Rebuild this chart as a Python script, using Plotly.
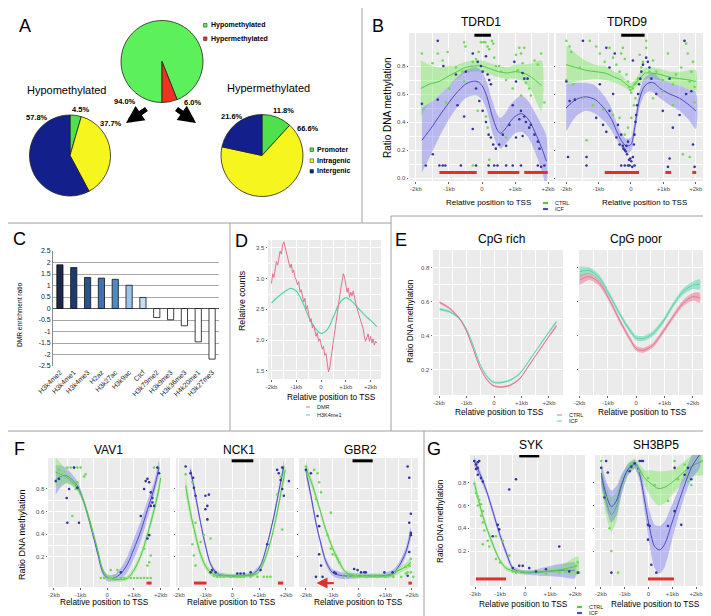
import plotly.graph_objects as go

W, H = 711, 616
FONT = "Liberation Sans, Arial, Helvetica, sans-serif"

# ======================= DATA =======================
# ---- Panel A (pies) ----
A_top_labels = ["Hypomethylated", "Hypermethylated"]
A_top_values = [94.0, 6.0]
A_region_labels = ["Promoter", "Intragenic", "Intergenic"]
A_hypo_values = [4.5, 37.7, 57.8]
A_hyper_values = [11.8, 66.6, 21.6]

# ---- Panel C (bars) ----
C_marks = ["H3k4me2", "H3k4me1", "H3k4me3", "H2az", "H3k27ac", "H3k9ac", "Ctcf",
           "H3k79me2", "H3k9me3", "H3k36me3", "H4k20me1", "H3k27me3"]
C_ratio = [1.90, 1.78, 1.35, 1.32, 1.27, 1.01, 0.48, -0.39, -0.49, -0.75, -1.45, -2.20]
C_tickvals = [2.5, 2, 1.5, 1, 0.5, 0, -0.5, -1, -1.5, -2, -2.5]
C_ticktext = ["2.5", "2", "1.5", "1", "0.5", "0", "-0.5", "-1", "-1.5", "-2", "-2.5"]

# ---- shared kb ticks ----
KB_VALS = [-2, -1, 0, 1, 2]
KB_TEXT = ["-2kb", "-1kb", "0", "+1kb", "+2kb"]

# ---- Panel D ----
D_dmr_x = [-2.0, -1.95, -1.9, -1.85, -1.8, -1.75, -1.7, -1.65, -1.6, -1.55, -1.5, -1.45, -1.4, -1.35,
           -1.3, -1.25, -1.2, -1.15, -1.1, -1.05, -1.0, -0.95, -0.9, -0.85, -0.8, -0.75, -0.7, -0.65,
           -0.6, -0.55, -0.5, -0.45, -0.4, -0.35, -0.3, -0.25, -0.2, -0.15, -0.1, -0.05, 0.0, 0.05,
           0.1, 0.15, 0.2, 0.25, 0.3, 0.35, 0.4, 0.45, 0.5, 0.55, 0.6, 0.65, 0.7, 0.75, 0.8, 0.85,
           0.9, 0.95, 1.0, 1.05, 1.1, 1.15, 1.2, 1.25, 1.3, 1.35, 1.4, 1.45, 1.5, 1.55, 1.6, 1.65,
           1.7, 1.75, 1.8, 1.85, 1.9, 1.95, 2.0, 2.05, 2.1, 2.15, 2.2, 2.25]
D_dmr_y = [2.92, 3.08, 3.02, 3.20, 3.28, 3.22, 3.38, 3.45, 3.40, 3.55, 3.60, 3.52, 3.42, 3.36,
           3.30, 3.18, 3.24, 3.10, 3.14, 3.02, 2.98, 2.90, 2.95, 2.78, 2.82, 2.70, 2.62, 2.68,
           2.50, 2.56, 2.40, 2.30, 2.35, 2.20, 2.25, 2.12, 2.06, 2.12, 1.98, 2.02, 1.95, 1.85,
           1.90, 1.75, 1.78, 1.62, 1.48, 1.55, 1.70, 1.82, 1.95, 2.15, 2.30, 2.45, 2.52, 2.70,
           2.85, 2.95, 3.08, 3.02, 2.88, 2.78, 2.85, 2.70, 2.78, 2.72, 2.80, 2.68, 2.60, 2.52,
           2.45, 2.35, 2.30, 2.22, 2.18, 2.05, 1.98, 2.04, 2.10, 1.98, 2.06, 1.95, 2.02, 1.92,
           1.98, 1.95]
D_h3_x = [-2.0, -1.75, -1.5, -1.25, -1.0, -0.75, -0.5, -0.25, 0.0, 0.25, 0.5, 0.75, 1.0, 1.25,
          1.5, 1.75, 2.0, 2.25]
D_h3_y = [2.60, 2.70, 2.78, 2.84, 2.80, 2.62, 2.38, 2.20, 2.11, 2.17, 2.38, 2.60, 2.69, 2.63,
          2.52, 2.41, 2.32, 2.22]

# ---- Panel E ----
E_rich_x = [-1.98, -1.61, -1.25, -1.01, -0.76, -0.52, -0.28, -0.04, 0.21, 0.57, 0.93, 1.30, 1.66, 2.02, 2.27]
E_rich_ctrl = [0.596, 0.56, 0.50, 0.43, 0.325, 0.217, 0.148, 0.109, 0.10, 0.109, 0.148, 0.233, 0.317, 0.401, 0.458]
E_rich_icf = [0.556, 0.54, 0.50, 0.44, 0.345, 0.237, 0.168, 0.129, 0.125, 0.139, 0.178, 0.26, 0.345, 0.427, 0.482]
E_rich_se = [0.008, 0.007, 0.006, 0.006, 0.006, 0.006, 0.006, 0.006, 0.006, 0.006, 0.006, 0.006, 0.006, 0.007, 0.008]
E_poor_x = [-2.0, -1.65, -1.29, -0.94, -0.59, -0.23, 0.0, 0.24, 0.59, 0.94, 1.30, 1.65, 2.0, 2.24]
E_poor_ctrl = [0.727, 0.747, 0.707, 0.609, 0.492, 0.384, 0.325, 0.315, 0.345, 0.423, 0.511, 0.59, 0.629, 0.623]
E_poor_icf = [0.776, 0.782, 0.737, 0.639, 0.531, 0.433, 0.388, 0.384, 0.413, 0.482, 0.58, 0.658, 0.697, 0.701]
E_poor_se = [0.03, 0.02, 0.018, 0.015, 0.015, 0.015, 0.015, 0.015, 0.015, 0.015, 0.015, 0.018, 0.022, 0.03]

# ---- Panel B : TDRD1 ----
B1_ctrl_x = [-1.85, -1.6, -1.3, -1.0, -0.75, -0.5, -0.25, 0.0, 0.25, 0.5, 0.75, 1.0, 1.25, 1.5, 1.8]
B1_ctrl_y = [0.64, 0.67, 0.69, 0.73, 0.76, 0.79, 0.80, 0.80, 0.78, 0.76, 0.75, 0.76, 0.75, 0.72, 0.66]
B1_ctrl_se = [0.20, 0.14, 0.10, 0.07, 0.05, 0.04, 0.04, 0.04, 0.04, 0.04, 0.04, 0.05, 0.06, 0.10, 0.18]
B1_icf_x = [-1.82, -1.5, -1.3, -1.0, -0.8, -0.5, -0.3, -0.15, 0.0, 0.15, 0.3, 0.45, 0.55, 0.7, 0.85,
            1.0, 1.2, 1.4, 1.6, 1.8, 1.95]
B1_icf_y = [0.27, 0.37, 0.44, 0.54, 0.60, 0.67, 0.69, 0.69, 0.66, 0.58, 0.45, 0.35, 0.32, 0.35, 0.40,
            0.44, 0.46, 0.42, 0.33, 0.22, 0.12]
B1_icf_se = [0.23, 0.18, 0.15, 0.12, 0.11, 0.10, 0.10, 0.10, 0.10, 0.10, 0.11, 0.11, 0.11, 0.11, 0.12,
             0.12, 0.13, 0.13, 0.14, 0.16, 0.18]
B1_ctrl_px = [-1.82, -1.34, -1.04, -0.54, -0.50, -0.28, -0.18, -0.10, -0.03, 0.04, 0.10, 0.17, 0.22, 0.30,
              0.34, 0.37, 0.42, 0.52, 0.58, 0.73, 0.93, 1.03, 1.08, 1.13, 1.18, 1.23, 1.28, 1.33, 1.43,
              1.48, 1.59, 1.69, 1.79, 1.89, -1.19, -1.50, -0.79, -0.54, -1.09, -0.13, 0.12, 0.17, -0.28,
              0.22, 0.73, -0.59, -0.99, 1.18]
B1_ctrl_py = [0.89, 0.89, 0.90, 0.97, 0.94, 0.83, 0.85, 0.90, 0.97, 0.97, 0.97, 0.94, 0.92, 0.98,
              0.96, 0.86, 0.80, 0.80, 0.76, 0.70, 0.64, 0.88, 0.77, 0.93, 0.89, 0.82, 0.93, 0.68, 0.64,
              0.59, 0.84, 0.81, 0.89, 0.54, 0.84, 0.82, 0.79, 0.69, 0.54, 0.48, 0.44, 0.36, 0.09,
              0.13, 0.29, 0.76, 0.64, 0.59]
B1_icf_px = [-1.34, -1.82, -1.17, -0.79, -0.49, -0.28, -0.13, -0.03, 0.02, 0.12, 0.17, 0.22, 0.27, -0.18,
             -0.08, 0.02, 0.12, 0.20, 0.27, 0.34, 0.42, 0.52, 0.63, 0.73, 0.83, 0.93, 1.03, 1.13, 1.18,
             1.23, 1.28, 1.33, 1.43, 1.48, 1.59, 1.69, 1.74, 1.79, 1.89,
             -1.70, -1.29, -1.19, -1.11, -0.64, -0.18, 0.20, 0.37, 0.47, 0.73, 0.93, 1.18, 1.69,
             -1.49, -0.74, -0.54, -0.28, -1.34, 0.98, 1.03, 1.23, 1.28, 1.38]
B1_icf_py = [0.98, 0.53, 0.80, 0.74, 0.76, 0.89, 0.83, 0.80, 0.76, 0.87, 0.74, 0.70, 0.67, 0.64,
             0.55, 0.48, 0.40, 0.31, 0.29, 0.24, 0.21, 0.24, 0.31, 0.23, 0.38, 0.52, 0.29, 0.42, 0.48,
             0.30, 0.44, 0.40, 0.36, 0.38, 0.31, 0.26, 0.21, 0.08, 0.09,
             0.09, 0.09, 0.09, 0.09, 0.09, 0.09, 0.09, 0.09, 0.09, 0.09, 0.09, 0.09, 0.09,
             0.17, 0.52, 0.44, 0.35, 0.56, 0.83, 0.69, 0.75, 0.71, 0.71]
B1_dmr_start = [-1.29, 0.17, 1.28]
B1_dmr_end = [-0.16, 1.13, 1.99]
B1_gene = [-0.23, 0.27]

# ---- Panel B : TDRD9 ----
B2_ctrl_x = [-2.0, -1.7, -1.4, -1.1, -0.8, -0.5, -0.3, -0.15, 0.0, 0.15, 0.3, 0.45, 0.6, 0.9, 1.2, 1.5, 1.8, 2.0]
B2_ctrl_y = [0.81, 0.79, 0.77, 0.76, 0.75, 0.72, 0.70, 0.67, 0.65, 0.68, 0.72, 0.75, 0.75, 0.74, 0.72, 0.71, 0.70, 0.69]
B2_ctrl_se = [0.14, 0.10, 0.07, 0.05, 0.05, 0.04, 0.04, 0.03, 0.03, 0.03, 0.04, 0.04, 0.04, 0.04, 0.04, 0.05, 0.07, 0.08]
B2_icf_x = [-2.0, -1.7, -1.4, -1.1, -0.8, -0.6, -0.45, -0.3, -0.15, 0.0, 0.1, 0.25, 0.4, 0.55, 0.7, 0.9,
            1.2, 1.5, 1.8, 2.0]
B2_icf_y = [0.50, 0.56, 0.58, 0.56, 0.49, 0.42, 0.34, 0.27, 0.23, 0.24, 0.34, 0.55, 0.65, 0.68, 0.68, 0.64,
            0.60, 0.57, 0.52, 0.48]
B2_icf_se = [0.17, 0.12, 0.10, 0.10, 0.09, 0.08, 0.06, 0.05, 0.05, 0.05, 0.05, 0.06, 0.06, 0.06, 0.07, 0.07,
             0.08, 0.09, 0.11, 0.13]
B2_ctrl_px = [-1.99, -1.89, -1.84, -1.58, -1.27, -1.07, -0.96, -0.81, -0.66, -0.55, -0.45, -0.35, -0.30, -0.25,
              -0.19, -0.14, -0.09, -0.06, -0.02, 0.01, 0.06, 0.11, 0.16, 0.22, 0.27, 0.32, 0.37, 0.47, 0.68,
              0.78, 0.98, 1.14, 1.29, 1.39, 1.55, 1.70, 1.75, 1.81, 1.86, 1.91, 1.96, 1.96, -1.99, -1.78,
              -1.48, -1.17, -0.86, -0.55, -0.35, -0.19, -0.09, 0.01, 0.09, 0.14, -1.37, 0.68, 0.98, 1.29,
              1.60, 1.81, 0.47, 0.57]
B2_ctrl_py = [0.98, 0.94, 0.90, 0.79, 0.98, 0.94, 0.89, 0.83, 0.93, 0.86, 0.81, 0.76, 0.89, 0.93,
              0.85, 0.74, 0.69, 0.65, 0.63, 0.61, 0.64, 0.67, 0.68, 0.71, 0.88, 0.79, 0.83, 0.93, 0.84,
              0.76, 0.70, 0.89, 0.67, 0.74, 0.79, 0.96, 0.89, 0.69, 0.76, 0.83, 0.65, 0.54, 0.70, 0.67,
              0.57, 0.52, 0.49, 0.45, 0.43, 0.31, 0.36, 0.43, 0.52, 0.57, 0.27, 0.57, 0.62, 0.52,
              0.17, 0.15, 0.98, 0.76]
B2_icf_px = [-1.99, -1.94, -1.48, -1.37, -1.37, -1.07, -0.86, -0.76, -0.66, -0.55, -0.45, -0.40, -0.35, -0.30,
             -0.25, -0.23, -0.19, -0.16, -0.14, -0.12, -0.09, -0.06, -0.04, -0.02, 0.01, 0.04, 0.06, 0.09,
             0.11, 0.14, 0.16, 0.19, 0.22, 0.25, 0.29, 0.32, 0.37, 0.47, 0.52, 0.57, 0.63, -0.30, -0.19,
             -0.09, 0.11, -0.76, -0.50, -0.66, -0.96, 0.78, 0.98, 1.19, 1.29, 1.50, 1.70, 1.86, 1.91,
             1.96, 1.65, 0.06, 1.14, 1.19, -1.89, -1.73]
B2_icf_py = [0.69, 0.15, 0.98, 0.15, 0.09, 0.43, 0.38, 0.33, 0.48, 0.60, 0.29, 0.38, 0.24, 0.31,
             0.23, 0.21, 0.20, 0.19, 0.23, 0.17, 0.26, 0.13, 0.09, 0.14, 0.12, 0.08, 0.15, 0.24,
             0.31, 0.40, 0.45, 0.52, 0.60, 0.67, 0.71, 0.76, 0.81, 0.86, 0.83, 0.79, 0.71, 0.09, 0.09,
             0.09, 0.09, 0.93, 0.89, 0.79, 0.67, 0.60, 0.48, 0.71, 0.36, 0.45, 0.60, 0.62, 0.24,
             0.08, 0.98, 0.84, 0.08, 0.14, 0.55, 0.56]
B2_dmr_start = [-0.81, 1.06, 1.89]
B2_dmr_end = [0.25, 1.24, 2.01]
B2_gene = [-0.30, 0.42]

# ---- Panel F : VAV1 ----
F1_ctrl_x = [-1.93, -1.75, -1.56, -1.35, -1.12, -0.87, -0.62, -0.37, -0.18, 0.0, 0.26, 0.51, 0.76, 1.0,
             1.26, 1.51, 1.76, 1.94, 2.0]
F1_ctrl_y = [0.95, 0.93, 0.91, 0.87, 0.81, 0.68, 0.49, 0.27, 0.09, 0.02, 0.0, -0.005, 0.01, 0.08,
             0.21, 0.40, 0.62, 0.81, 0.90]
F1_ctrl_se = [0.13, 0.10, 0.06, 0.04, 0.03, 0.03, 0.03, 0.02, 0.02, 0.02, 0.02, 0.02, 0.02, 0.03,
              0.03, 0.04, 0.05, 0.06, 0.07]
F1_icf_x = [-1.93, -1.75, -1.56, -1.35, -1.12, -0.87, -0.62, -0.37, -0.18, 0.0, 0.26, 0.51, 0.76, 1.0,
            1.26, 1.51, 1.76, 1.94]
F1_icf_y = [0.88, 0.91, 0.92, 0.89, 0.83, 0.68, 0.47, 0.24, 0.07, 0.01, 0.01, 0.05, 0.135, 0.27,
            0.43, 0.62, 0.81, 0.99]
F1_icf_se = [0.13, 0.10, 0.07, 0.05, 0.04, 0.03, 0.03, 0.03, 0.03, 0.03, 0.03, 0.05, 0.07, 0.09,
             0.09, 0.08, 0.06, 0.06]
F1_ctrl_px = [-1.495, -1.37, -1.245, -1.12, -0.995, -1.81, -0.87, -0.81, -1.18, -1.31, -1.12, 0.13, 0.26,
              0.38, -0.245, -0.12, 0.07, 0.13, 0.51, 0.63, 0.88, 1.0, 1.13, 1.255, 1.38, 1.505, 1.63,
              1.505, 1.57, 1.63, 1.755, 1.88, 1.38]
F1_ctrl_py = [0.99, 0.99, 0.99, 0.99, 0.99, 0.97, 0.91, 0.93, 0.80, 0.56, 0.86, 0.08, 0.03,
              0.08, 0.01, 0.01, 0.01, 0.01, 0.01, 0.01, 0.01, 0.01, 0.01, 0.01, 0.01, 0.01, 0.01,
              0.12, 0.15, 0.21, 0.99, 0.99, 0.27]
F1_icf_px = [-1.93, -1.81, -1.43, -1.52, -1.495, -1.12, -1.06, -1.245, 0.51, 1.38, 1.44, 1.505, 1.57, 1.63,
             1.63, 1.69, 1.505, 1.57, 1.88, 1.94, 1.255, 1.755, 1.69]
F1_icf_py = [0.87, 0.89, 0.80, 0.72, 0.50, 0.81, 0.50, 0.99, 0.06, 0.80, 0.87, 0.89, 0.86, 0.77,
             0.65, 0.68, 0.36, 0.39, 0.99, 0.94, 0.56, 0.65, 0.72]
F1_dmr_start = [1.47]
F1_dmr_end = [1.66]

# ---- Panel F : NCK1 ----
F2_ctrl_x = [-1.75, -1.57, -1.38, -1.19, -0.94, -0.69, -0.20, 0.43, 0.93, 1.17, 1.42, 1.67, 1.86, 1.98]
F2_ctrl_y = [0.83, 0.59, 0.39, 0.22, 0.09, 0.04, 0.03, 0.03, 0.05, 0.15, 0.33, 0.59, 0.83, 0.97]
F2_ctrl_se = [0.08, 0.06, 0.05, 0.04, 0.03, 0.025, 0.02, 0.02, 0.02, 0.03, 0.03, 0.04, 0.05, 0.06]
F2_icf_x = [-1.57, -1.38, -1.19, -1.01, -0.82, -0.57, -0.20, 0.43, 0.80, 1.05, 1.30, 1.55, 1.80, 1.92]
F2_icf_y = [0.97, 0.74, 0.50, 0.30, 0.135, 0.05, 0.03, 0.03, 0.05, 0.12, 0.31, 0.56, 0.86, 1.0]
F2_icf_se = [0.05, 0.04, 0.03, 0.03, 0.02, 0.02, 0.015, 0.015, 0.02, 0.02, 0.02, 0.03, 0.04, 0.05]
F2_ctrl_px = [-1.75, -1.50, -1.38, -1.50, -1.44, -1.38, -1.19, -1.07, -0.94, -0.82, -0.76, -0.69,
              -0.57, -0.45, -0.32, -0.07, 0.18, 0.30, 0.43, 0.68, 0.93, 1.17, 1.30, 1.42,
              1.67, 1.80, 1.86, 1.92]
F2_ctrl_py = [0.93, 0.86, 0.50, 0.31, 0.21, 0.12, 0.33, 0.39, 0.53, 0.36, 0.06, 0.03,
              0.02, 0.02, 0.02, 0.02, 0.02, 0.02, 0.02, 0.02, 0.02, 0.02, 0.02, 0.02,
              0.75, 0.91, 0.44, 0.94]
F2_icf_px = [-1.75, -1.57, -1.47, -1.44, -1.38, -1.01, -0.94, -1.01, -0.88, -0.94, -0.82, -0.76, -0.63,
             0.18, 0.30, 0.43, 0.68, 1.05, 1.30, 1.67, 1.73, 1.80, 1.86, 1.92, 2.11, 1.86]
F2_icf_py = [1.0, 0.94, 0.90, 0.81, 0.74, 0.74, 0.65, 0.62, 0.75, 0.53, 0.06, 0.08, 0.06,
             0.05, 0.05, 0.05, 0.06, 0.08, 0.31, 0.97, 0.94, 0.88, 0.80, 0.74, 0.87, 0.99]
F2_dmr_start = [-1.44, 1.70]
F2_dmr_end = [-0.97, 1.90]
F2_gene = [-0.03, 0.78]

# ---- Panel F : GBR2 ----
F3_ctrl_x = [-2.0, -1.75, -1.50, -1.25, -1.0, -0.74, -0.49, -0.11, 0.77, 1.14, 1.52, 1.77, 1.96]
F3_ctrl_y = [0.99, 0.83, 0.64, 0.44, 0.28, 0.15, 0.06, 0.03, 0.03, 0.03, 0.08, 0.11, 0.15]
F3_ctrl_se = [0.06, 0.04, 0.03, 0.03, 0.03, 0.03, 0.02, 0.02, 0.02, 0.02, 0.03, 0.03, 0.04]
F3_icf_x = [-2.0, -1.81, -1.62, -1.43, -1.25, -1.0, -0.62, 0.14, 0.89, 1.27, 1.52, 1.77, 1.96]
F3_icf_y = [0.96, 0.74, 0.50, 0.31, 0.16, 0.06, 0.03, 0.03, 0.03, 0.05, 0.12, 0.24, 0.41]
F3_icf_se = [0.05, 0.04, 0.03, 0.03, 0.03, 0.03, 0.03, 0.02, 0.02, 0.03, 0.03, 0.04, 0.05]
F3_ctrl_px = [-2.0, -1.69, -1.56, -1.50, -1.43, -1.06, -1.18, -1.06, -0.99, -0.87, -0.80, -0.74, -1.62,
              -0.11, 0.14, 0.52, 1.77, 1.90, 1.96, 1.96, 1.77, 1.84,
              -0.6, -0.4, -0.2, 0.3, 0.7, 1.0, 1.3, 1.6, 2.05]
F3_ctrl_py = [1.0, 0.97, 0.94, 0.86, 0.77, 0.59, 0.39, 0.27, 0.22, 0.21, 0.18, 0.15, 0.71,
              0.03, 0.03, 0.03, 0.11, 0.12, 0.18, 0.06, 0.05, 0.06,
              0.02, 0.02, 0.02, 0.02, 0.02, 0.02, 0.02, 0.02, 0.02]
F3_icf_px = [-2.0, -1.81, -1.56, -1.50, -1.50, -1.43, -1.62, -1.37, -0.93, -0.87, -0.18, -0.05, 0.08, 0.20,
             0.26, 0.96, 1.27, 1.84, 1.90, 1.96, 1.90, 1.96, 1.96, 1.90, 1.84]
F3_icf_py = [0.97, 0.94, 0.56, 0.47, 0.22, 0.12, 0.02, 0.02, 0.06, 0.05, 0.09, 0.08, 0.06, 0.06,
             0.06, 0.06, 0.06, 1.0, 0.90, 0.58, 0.50, 0.41, 0.39, 0.24, 0.03]
F3_dmr_start = [1.87]
F3_dmr_end = [2.0]
F3_arrow = [-0.89, -1.60]  # DMR extending upstream (tail, head)
F3_gene = [-0.24, 0.52]

# ---- Panel G : SYK ----
G1_ctrl_x = [-2.03, -1.83, -1.56, -1.29, -1.03, -0.76, -0.36, 0.17, 0.84, 1.51, 2.11]
G1_ctrl_y = [0.80, 0.62, 0.42, 0.26, 0.13, 0.05, 0.02, 0.016, 0.02, 0.04, 0.07]
G1_ctrl_se = [0.05, 0.04, 0.03, 0.03, 0.02, 0.02, 0.015, 0.015, 0.02, 0.04, 0.08]
G1_icf_x = [-2.03, -1.83, -1.56, -1.29, -1.03, -0.76, -0.49, -0.23, 0.17, 0.84, 1.51, 2.0]
G1_icf_y = [0.99, 0.89, 0.74, 0.55, 0.36, 0.19, 0.05, 0.02, 0.01, 0.02, 0.03, 0.03]
G1_icf_se = [0.05, 0.04, 0.03, 0.03, 0.03, 0.03, 0.02, 0.02, 0.02, 0.04, 0.06, 0.07]
G1_ctrl_px = [-2.03, -1.96, -1.89, -1.83, -1.89, -1.76, -1.69, -1.76, -1.69, -1.63, -1.69, -1.49, -1.43,
              -1.16, -1.16, -1.0, -0.89, -0.63, -0.49, -0.36, -0.23, 0.04, 0.44, 0.84, 1.37, 1.64,
              2.04, 2.11, 2.17]
G1_ctrl_py = [0.79, 0.71, 0.68, 0.65, 0.60, 0.61, 0.55, 0.51, 0.45, 0.38, 0.26, 0.29, 0.24,
              0.33, 0.13, 0.10, 0.29, 0.16, 0.02, 0.01, 0.02, 0.01, 0.01, 0.0, 0.01, 0.02,
              0.07, 0.10, 0.01]
G1_icf_px = [-2.03, -1.96, -1.89, -1.83, -1.96, -1.89, -1.76, -1.69, -1.89, -1.29, -1.09, -1.03, -0.36,
             -0.63, -0.49, -0.23, -0.09, 0.17, 0.44, 0.84, 1.37, 1.77, 2.11]
G1_icf_py = [0.99, 0.96, 0.98, 0.99, 0.92, 0.87, 0.84, 0.81, 0.93, 0.33, 0.43, 0.39, 0.83,
             0.74, 0.05, 0.07, 0.07, 0.05, 0.02, 0.04, 0.24, 0.02, 0.01]
G1_dmr_start = [-1.96]
G1_dmr_end = [-0.76]
G1_gene = [-0.23, 0.57]

# ---- Panel G : SH3BP5 ----
G2_ctrl_x = [-1.99, -1.78, -1.56, -1.35, -1.14, -0.86, -0.58, -0.37, -0.16, 0.12, 0.40, 0.68, 1.10,
             1.52, 1.94, 2.30]
G2_ctrl_y = [0.86, 0.64, 0.52, 0.59, 0.77, 0.92, 0.97, 0.915, 0.84, 0.79, 0.75, 0.76, 0.82, 0.90, 0.96, 0.99]
G2_ctrl_se = [0.10, 0.13, 0.15, 0.13, 0.08, 0.05, 0.04, 0.05, 0.07, 0.12, 0.15, 0.14, 0.10, 0.09, 0.10, 0.12]
G2_icf_x = [-1.99, -1.78, -1.56, -1.35, -1.14, -0.86, -0.58, -0.37, -0.16, 0.05, 0.26, 0.47, 0.68, 0.96,
            1.24, 1.52, 1.80, 2.16]
G2_icf_y = [0.885, 0.695, 0.59, 0.64, 0.78, 0.915, 0.96, 0.87, 0.64, 0.40, 0.24, 0.21, 0.26, 0.43,
            0.61, 0.78, 0.93, 1.05]
G2_icf_se = [0.10, 0.12, 0.14, 0.13, 0.09, 0.05, 0.04, 0.06, 0.10, 0.15, 0.19, 0.21, 0.20, 0.16,
             0.12, 0.10, 0.10, 0.12]
G2_ctrl_px = [-1.99, -1.78, -1.64, -1.56, -1.28, -0.79, -0.72, -0.65, -0.51, -0.44, -0.30, -0.02, 0.26,
              0.82, 1.10, 1.24, 1.52, 1.59, 1.80, 2.23, 1.66]
G2_ctrl_py = [0.99, 0.67, 0.40, 0.20, 0.01, 0.96, 0.93, 0.97, 0.94, 0.90, 0.89, 0.84, 0.78,
              0.64, 0.99, 0.83, 0.96, 0.87, 0.78, 0.99, 0.81]
G2_icf_px = [-1.99, -1.78, -1.71, -1.85, -1.56, -0.79, -0.72, -0.58, -0.37, -0.30, -0.23, -0.02, 0.05,
             -0.02, 0.12, 0.33, 0.82, 1.10, 1.38, 1.52, 1.66, 1.80, 1.10]
G2_icf_py = [0.93, 0.99, 0.89, 0.67, 0.01, 0.90, 0.94, 0.97, 0.99, 0.99, 0.99, 0.43, 0.42,
             0.30, 0.08, 0.01, 0.42, 0.55, 0.43, 0.87, 0.93, 0.83, 0.93]
G2_dmr_start = [-0.02]
G2_dmr_end = [1.07]

# ======================= STYLE =======================
GREEN_LINE = "#52c84a"
GREEN_PT = "#6fd957"
GREEN_FILL = "rgba(120,230,90,0.45)"
BLUE_LINE = "#4b4bc6"
BLUE_PT = "#33339f"
BLUE_FILL = "rgba(110,110,240,0.40)"
PINK_LINE = "#e2728c"
PINK_FILL = "rgba(235,100,130,0.45)"
TEAL_LINE = "#52d4a8"
TEAL_FILL = "rgba(60,210,160,0.45)"
RED = "#e0302c"
PANEL_BG = "#ebebeb"
C_colors = ["#1b2947", "#1f3a6e", "#2c518c", "#3f70b0", "#5088c8", "#9dc4ea", "#c6ddf3",
            "white", "white", "white", "white", "white"]


def P(px):
    return px / W


def Q(py):
    return 1 - py / H


fig = go.Figure()
annotations = []
shapes = []
layout_axes = {}


def ax_names(i):
    return ("x" if i == 1 else f"x{i}"), ("y" if i == 1 else f"y{i}")


def text(s, x, y, size, color="#000000", bold=False, angle=0, xanchor="center", yanchor="middle"):
    annotations.append(dict(text=(f"<b>{s}</b>" if bold else s), x=P(x), y=Q(y), xref="paper", yref="paper",
                            showarrow=False, font=dict(size=size, color=color, family=FONT),
                            xanchor=xanchor, yanchor=yanchor, textangle=angle))


def pline(x0, y0, x1, y1, color="#a0a0a0", width=1):
    shapes.append(dict(type="line", xref="paper", yref="paper", x0=P(x0), y0=Q(y0), x1=P(x1), y1=Q(y1),
                       line=dict(color=color, width=width)))


def gg_axes(i, xpx, ypx, xr, yr, yvals, ytext, show_ylabels=True):
    xa, ya = ax_names(i)
    xkey = "xaxis" if i == 1 else f"xaxis{i}"
    ykey = "yaxis" if i == 1 else f"yaxis{i}"
    tickfont = dict(size=6, color="#4d4d4d", family=FONT)
    layout_axes[xkey] = dict(domain=[P(xpx[0]), P(xpx[1])], range=xr, anchor=ya, tickvals=KB_VALS,
                             ticktext=KB_TEXT, tickfont=tickfont, showgrid=True, gridcolor="white",
                             gridwidth=1, zeroline=False, ticks="outside", ticklen=1.5, tickcolor="#666",
                             tickwidth=0.6, showline=False, fixedrange=True, automargin=False,
                             minor=dict(tickvals=[-1.5, -0.5, 0.5, 1.5], showgrid=True, gridcolor="white",
                                        gridwidth=0.5, ticks=""))
    minor_y = [(a + b) / 2 for a, b in zip(yvals[:-1], yvals[1:])]
    layout_axes[ykey] = dict(domain=[Q(ypx[1]), Q(ypx[0])], range=yr, anchor=xa, tickvals=yvals,
                             ticktext=ytext, tickfont=tickfont, showticklabels=show_ylabels,
                             showgrid=True, gridcolor="white", gridwidth=1, zeroline=False,
                             ticks="outside", ticklen=1.5, tickcolor="#666", tickwidth=0.6,
                             showline=False, fixedrange=True, automargin=False,
                             minor=dict(tickvals=minor_y, showgrid=True, gridcolor="white",
                                        gridwidth=0.5, ticks=""))
    shapes.append(dict(type="rect", xref=f"{xa} domain", yref=f"{ya} domain", x0=0, x1=1, y0=0, y1=1,
                       fillcolor=PANEL_BG, line=dict(width=0), layer="below"))


def smooth(i, x, y, se, line_color, fill_color, width=1.0):
    xa, ya = ax_names(i)
    up = [a + b for a, b in zip(y, se)]
    lo = [a - b for a, b in zip(y, se)]
    fig.add_trace(go.Scatter(x=list(x) + list(x)[::-1], y=up + lo[::-1], mode="lines", fill="toself",
                             fillcolor=fill_color, line=dict(width=0, shape="spline", smoothing=0.7),
                             hoverinfo="skip", xaxis=xa, yaxis=ya))
    fig.add_trace(go.Scatter(x=x, y=y, mode="lines", line=dict(color=line_color, width=width, shape="spline",
                                                               smoothing=0.9),
                             hoverinfo="skip", xaxis=xa, yaxis=ya))


def points(i, x, y, color, size=2.6):
    xa, ya = ax_names(i)
    fig.add_trace(go.Scatter(x=x, y=y, mode="markers", marker=dict(color=color, size=size, line=dict(width=0)),
                             hoverinfo="skip", xaxis=xa, yaxis=ya))


def segs(i, starts, ends, level, color, width=3):
    xa, ya = ax_names(i)
    xs, ys = [], []
    for s, e in zip(starts, ends):
        xs += [s, e, None]
        ys += [level, level, None]
    fig.add_trace(go.Scatter(x=xs, y=ys, mode="lines", line=dict(color=color, width=width),
                             hoverinfo="skip", xaxis=xa, yaxis=ya, cliponaxis=False))


# ======================= PANEL C (axis 1) =======================
layout_axes["xaxis"] = dict(domain=[P(45), P(211)], range=[-0.5, 11.5], anchor="y", tickangle=-45,
                            tickfont=dict(size=7, color="#222", family=FONT), showgrid=False,
                            showline=False, zeroline=False, ticks="", fixedrange=True, type="category",
                            automargin=False)
layout_axes["yaxis"] = dict(domain=[Q(358), Q(243)], range=[-2.5, 2.5], anchor="x", tickvals=C_tickvals,
                            ticktext=C_ticktext, tickfont=dict(size=7, color="#222", family=FONT),
                            showgrid=True, gridcolor="#a8a8a8", gridwidth=0.8, zeroline=True,
                            zerolinecolor="#555", zerolinewidth=1, showline=True, linecolor="#8c8c8c",
                            linewidth=0.8, ticks="", fixedrange=True, automargin=False)
fig.add_trace(go.Bar(x=C_marks, y=C_ratio, marker=dict(color=C_colors, line=dict(color="#111", width=0.8)),
                     width=0.45, xaxis="x", yaxis="y", hoverinfo="skip"))

# ======================= PANEL D (axis 2) =======================
gg_axes(2, (260, 373), (232, 371), [-2.14, 2.42], [1.365, 3.63], [1.5, 2.0, 2.5, 3.0, 3.5],
        ["1.5", "2.0", "2.5", "3.0", "3.5"])
fig.add_trace(go.Scatter(x=D_h3_x, y=D_h3_y, mode="lines", line=dict(color=TEAL_LINE, width=1.2, shape="spline"),
                         xaxis="x2", yaxis="y2", hoverinfo="skip"))
fig.add_trace(go.Scatter(x=D_dmr_x, y=D_dmr_y, mode="lines", line=dict(color=PINK_LINE, width=1.0),
                         xaxis="x2", yaxis="y2", hoverinfo="skip"))

# ======================= PANEL E (axes 3,4) =======================
E_yv = [0.2, 0.4, 0.6, 0.8]
E_yt = ["0.2", "0.4", "0.6", "0.8"]
gg_axes(3, (425, 555), (242, 387), [-2.22, 2.51], [0.053, 0.903], E_yv, E_yt)
gg_axes(4, (571, 699), (242, 387), [-2.02, 2.50], [0.053, 0.903], E_yv, E_yt, show_ylabels=False)
smooth(3, E_rich_x, E_rich_icf, E_rich_se, TEAL_LINE, TEAL_FILL, 0.9)
smooth(3, E_rich_x, E_rich_ctrl, E_rich_se, PINK_LINE, PINK_FILL, 0.9)
smooth(4, E_poor_x, E_poor_icf, E_poor_se, TEAL_LINE, TEAL_FILL, 0.9)
smooth(4, E_poor_x, E_poor_ctrl, E_poor_se, PINK_LINE, PINK_FILL, 0.9)

# ======================= PANEL B (axes 5,6) =======================
B_yv = [0.0, 0.2, 0.4, 0.6, 0.8]
B_yt = ["0.0", "0.2", "0.4", "0.6", "0.8"]
gg_axes(5, (401, 546), (25, 173), [-2.21, 2.18], [-0.021, 1.036], B_yv, B_yt)
gg_axes(6, (548, 695), (25, 173), [-2.31, 2.22], [-0.021, 1.036], B_yv, B_yt, show_ylabels=False)
smooth(5, B1_ctrl_x, B1_ctrl_y, B1_ctrl_se, GREEN_LINE, GREEN_FILL)
smooth(5, B1_icf_x, B1_icf_y, B1_icf_se, BLUE_LINE, BLUE_FILL)
points(5, B1_ctrl_px, B1_ctrl_py, GREEN_PT)
points(5, B1_icf_px, B1_icf_py, BLUE_PT)
segs(5, B1_dmr_start, B1_dmr_end, 0.04, RED)
segs(5, [B1_gene[0]], [B1_gene[1]], 1.02, "#000000")
smooth(6, B2_ctrl_x, B2_ctrl_y, B2_ctrl_se, GREEN_LINE, GREEN_FILL)
smooth(6, B2_icf_x, B2_icf_y, B2_icf_se, BLUE_LINE, BLUE_FILL)
points(6, B2_ctrl_px, B2_ctrl_py, GREEN_PT)
points(6, B2_icf_px, B2_icf_py, BLUE_PT)
segs(6, B2_dmr_start, B2_dmr_end, 0.04, RED)
segs(6, [B2_gene[0]], [B2_gene[1]], 1.02, "#000000")

# ======================= PANEL F (axes 7,8,9) =======================
F_yv = [0.2, 0.4, 0.6, 0.8]
F_yt = ["0.2", "0.4", "0.6", "0.8"]
F_yr = [-0.07, 1.075]
gg_axes(7, (40, 162), (450, 579), [-2.22, 2.35], F_yr, F_yv, F_yt)
gg_axes(8, (168, 286), (450, 579), [-2.11, 2.30], F_yr, F_yv, F_yt, show_ylabels=False)
gg_axes(9, (291, 410), (450, 579), [-2.26, 2.23], F_yr, F_yv, F_yt, show_ylabels=False)
for i, cx, cy, cs, ix, iy, isd, cpx, cpy, ipx, ipy in [
        (7, F1_ctrl_x, F1_ctrl_y, F1_ctrl_se, F1_icf_x, F1_icf_y, F1_icf_se, F1_ctrl_px, F1_ctrl_py, F1_icf_px, F1_icf_py),
        (8, F2_ctrl_x, F2_ctrl_y, F2_ctrl_se, F2_icf_x, F2_icf_y, F2_icf_se, F2_ctrl_px, F2_ctrl_py, F2_icf_px, F2_icf_py),
        (9, F3_ctrl_x, F3_ctrl_y, F3_ctrl_se, F3_icf_x, F3_icf_y, F3_icf_se, F3_ctrl_px, F3_ctrl_py, F3_icf_px, F3_icf_py)]:
    smooth(i, ix, iy, isd, BLUE_LINE, BLUE_FILL)
    smooth(i, cx, cy, cs, GREEN_LINE, GREEN_FILL)
    points(i, cpx, cpy, GREEN_PT)
    points(i, ipx, ipy, BLUE_PT)
segs(7, F1_dmr_start, F1_dmr_end, -0.035, RED)
segs(8, F2_dmr_start, F2_dmr_end, -0.035, RED)
segs(8, [F2_gene[0]], [F2_gene[1]], 1.05, "#000000")
segs(9, F3_dmr_start, F3_dmr_end, -0.035, RED)
segs(9, [F3_gene[0]], [F3_gene[1]], 1.05, "#000000")
annotations.append(dict(x=F3_arrow[1], y=-0.035, ax=F3_arrow[0], ay=-0.035, xref="x9", yref="y9",
                        axref="x9", ayref="y9", showarrow=True, arrowhead=2, arrowsize=1.0,
                        arrowwidth=2.2, arrowcolor=RED, text=""))

# ======================= PANEL G (axes 10,11) =======================
G_yr = [-0.107, 1.043]
gg_axes(10, (462, 577), (447, 578), [-2.2, 2.4], G_yr, F_yv, F_yt)
gg_axes(11, (587, 703), (447, 578), [-2.25, 2.63], G_yr, F_yv, F_yt, show_ylabels=False)
smooth(10, G1_icf_x, G1_icf_y, G1_icf_se, BLUE_LINE, BLUE_FILL)
smooth(10, G1_ctrl_x, G1_ctrl_y, G1_ctrl_se, GREEN_LINE, GREEN_FILL)
points(10, G1_ctrl_px, G1_ctrl_py, GREEN_PT)
points(10, G1_icf_px, G1_icf_py, BLUE_PT)
segs(10, G1_dmr_start, G1_dmr_end, -0.045, RED)
segs(10, [G1_gene[0]], [G1_gene[1]], 1.035, "#000000")
smooth(11, G2_ctrl_x, G2_ctrl_y, G2_ctrl_se, GREEN_LINE, GREEN_FILL)
smooth(11, G2_icf_x, G2_icf_y, G2_icf_se, BLUE_LINE, BLUE_FILL)
points(11, G2_ctrl_px, G2_ctrl_py, GREEN_PT)
points(11, G2_icf_px, G2_icf_py, BLUE_PT)
segs(11, G2_dmr_start, G2_dmr_end, -0.045, RED)


# ======================= PANEL A (pies) =======================
def pie_domain(cx, cy, r):
    return dict(x=[P(cx - r), P(cx + r)], y=[Q(cy + r), Q(cy - r)])


PIE_REGION_COLORS = ["#4fe04c", "#f6f61e", "#13208c"]
fig.add_trace(go.Pie(labels=A_top_labels, values=A_top_values, sort=False, direction="clockwise",
                     rotation=180, marker=dict(colors=["#5cf05a", "#ee3322"], line=dict(color="#222", width=0.8)),
                     textinfo="none", hoverinfo="skip", automargin=False, domain=pie_domain(154, 53.5, 41)))
fig.add_trace(go.Pie(labels=A_region_labels, values=A_hypo_values, sort=False, direction="clockwise",
                     rotation=0, marker=dict(colors=PIE_REGION_COLORS, line=dict(color="#222", width=0.8)),
                     textinfo="none", hoverinfo="skip", automargin=False, domain=pie_domain(62, 147.5, 40.5)))
fig.add_trace(go.Pie(labels=A_region_labels, values=A_hyper_values, sort=False, direction="clockwise",
                     rotation=0, marker=dict(colors=PIE_REGION_COLORS, line=dict(color="#222", width=0.8)),
                     textinfo="none", hoverinfo="skip", automargin=False, domain=pie_domain(254, 147.5, 41)))

# pie percentage labels
for v, (lx, ly) in zip(A_top_values, [(117, 93), (184, 94)]):
    text(f"{v:.1f}%", lx, ly, 7.5, bold=True)
for v, (lx, ly) in zip(A_hypo_values, [(72, 101), (103, 115), (29, 109)]):
    text(f"{v:.1f}%", lx, ly, 7.5, bold=True)
for v, (lx, ly) in zip(A_hyper_values, [(275, 102), (300, 121), (224, 108)]):
    text(f"{v:.1f}%", lx, ly, 7.5, bold=True)
text("Hypomethylated", 59, 82, 11)
text("Hypermethylated", 260, 80, 11)

# manual legends for pies
for lab, col, ly in zip(A_top_labels, ["#5cf05a", "#ee3322"], [17.3, 30.7]):
    shapes.append(dict(type="rect", xref="paper", yref="paper", x0=P(195.5), x1=P(199), y0=Q(ly + 1.8),
                       y1=Q(ly - 1.8), fillcolor=col, line=dict(color="#222", width=0.5)))
    text(lab, 200.5, ly, 7, bold=True, xanchor="left")
for lab, col, ly in zip(A_region_labels, PIE_REGION_COLORS, [141.7, 152.7, 163.3]):
    shapes.append(dict(type="rect", xref="paper", yref="paper", x0=P(302), x1=P(305.5), y0=Q(ly + 1.8),
                       y1=Q(ly - 1.8), fillcolor=col, line=dict(color="#222", width=0.5)))
    text(lab, 307, ly, 7, bold=True, xanchor="left")

# black arrows
annotations.append(dict(x=P(118), y=Q(115), xref="paper", yref="paper", ax=22, ay=-15, showarrow=True,
                        arrowhead=2, arrowsize=0.7, arrowwidth=5, arrowcolor="#000", text=""))
annotations.append(dict(x=P(188), y=Q(115), xref="paper", yref="paper", ax=-21, ay=-15, showarrow=True,
                        arrowhead=2, arrowsize=0.7, arrowwidth=5, arrowcolor="#000", text=""))

# ======================= TEXTS =======================
for lab, lx, ly in [("A", 17, 18), ("B", 370, 18), ("C", 12, 231), ("D", 234, 233), ("E", 393, 232),
                    ("F", 12, 441), ("G", 426, 441)]:
    text(lab, lx, ly, 18)

for lab, lx, ly in [("TDRD1", 473, 14), ("TDRD9", 619, 14), ("CpG rich", 493, 231), ("CpG poor", 628, 231),
                    ("VAV1", 100, 442), ("NCK1", 231, 442), ("GBR2", 352, 442), ("SYK", 523, 437),
                    ("SH3BP5", 648, 437)]:
    text(lab, lx, ly, 12)

XT = "Relative position to TSS"
YT = "Ratio DNA methylation"
text(XT, 480, 194, 8)
text(XT, 636, 194, 8)
text(YT, 379, 100, 10, angle=-90)
text(XT, 323, 389, 8.3)
text("Relative counts", 234, 292, 8.8, angle=-90)
text(XT, 491, 404, 8.3)
text(XT, 634, 404, 8.3)
text(YT, 402, 313, 8.3, angle=-90)
text(XT, 97, 594, 8.3)
text(XT, 223, 594, 8.3)
text(XT, 350, 594, 8.3)
text(YT, 14, 527, 9, angle=-90)
text(XT, 515, 596, 8.3)
text(XT, 647, 596, 8.3)
text(YT, 432, 513, 8.3, angle=-90)
text("DMR enrichment ratio", 11, 307, 6.6, angle=-90)


def leg(items, x, ys, thick=2.2, size=5.5, length=5):
    for (lab, col), ly in zip(items, ys):
        pline(x, ly, x + length, ly, color=col, width=thick)
        text(lab, x + length + 5, ly, size, color="#222", xanchor="left")


leg([("CTRL", GREEN_LINE), ("ICF", BLUE_LINE)], 535, [195, 201])
leg([("DMR", PINK_LINE), ("H3K4me1", TEAL_LINE)], 298, [399, 407], thick=1, length=4)
leg([("CTRL", PINK_LINE), ("ICF", TEAL_LINE)], 549, [407, 413], thick=1, length=5)
leg([("CTRL", GREEN_LINE), ("ICF", BLUE_LINE)], 569, [599, 605])

# divider lines
pline(0, 215, 383, 215)
pline(383, 208, 711, 208)
pline(354, 0, 354, 215)
pline(222, 215, 222, 423)
pline(383, 208, 383, 423)
pline(0, 423, 711, 423)
pline(416, 423, 416, 616)

fig.update_layout(width=W, height=H, autosize=False,
                  margin=dict(l=0, r=0, t=0, b=0, pad=0, autoexpand=False), paper_bgcolor="white",
                  plot_bgcolor="white", showlegend=False, annotations=annotations, shapes=shapes,
                  font=dict(family=FONT), bargap=0.5, **layout_axes)
fig.write_html("out.html", config={"responsive": False, "displayModeBar": False})
